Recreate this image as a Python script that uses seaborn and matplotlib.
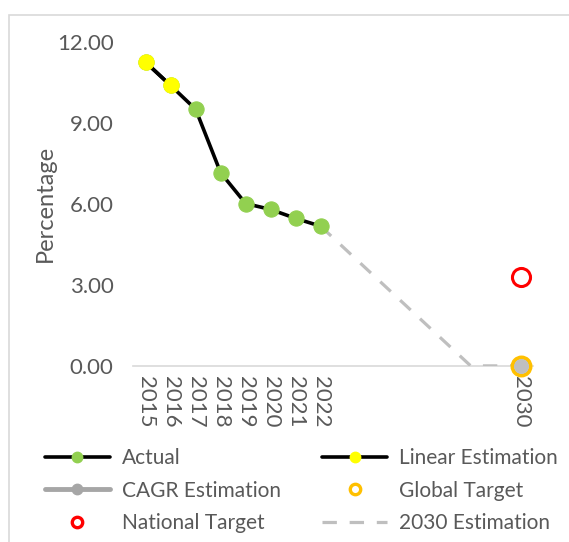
import pandas as pd
import matplotlib.pyplot as plt
import seaborn as sns
from matplotlib.lines import Line2D
from matplotlib.patches import Rectangle

# values
years = [2015, 2016, 2017, 2018, 2019, 2020, 2021, 2022]
actual = [11.24, 10.38, 9.50, 7.15, 6.01, 5.79, 5.46, 5.17]
linear_years = [2015, 2016]
linear = [11.24, 10.38]
cagr_years = [2030]
cagr = [0.0]
global_years = [2030]
global_target = [0.0]
national_years = [2030]
national_target = [3.29]
est_years = [2022, 2028, 2030]
est_2030 = [5.17, 0.0, 0.0]
tick_years = [2015, 2016, 2017, 2018, 2019, 2020, 2021, 2022, 2030]
y_ticks = [0, 3, 6, 9, 12]

actual_df = pd.DataFrame({'Year': years, 'Value': actual})
linear_df = pd.DataFrame({'Year': linear_years, 'Value': linear})
cagr_df = pd.DataFrame({'Year': cagr_years, 'Value': cagr})
global_df = pd.DataFrame({'Year': global_years, 'Value': global_target})
national_df = pd.DataFrame({'Year': national_years, 'Value': national_target})
est_df = pd.DataFrame({'Year': est_years, 'Value': est_2030})

sns.set_style("white")
plt.rcParams['font.family'] = ['Lato', 'DejaVu Sans']
text_col = '#595959'
dash = (0, (4.5, 4))

fig = plt.figure(figsize=(5.69, 5.42), dpi=100)
ax = fig.add_axes([0.234, 0.325, 0.703, 0.598])

sns.lineplot(x='Year', y='Value', data=est_df, ax=ax, color='#BFBFBF', linewidth=2.3,
             linestyle=dash, legend=False, zorder=2)
sns.lineplot(x='Year', y='Value', data=actual_df, ax=ax, color='black', linewidth=2.6,
             marker='o', markersize=11, markerfacecolor='#92D050', markeredgecolor='#92D050',
             legend=False, zorder=3)
sns.lineplot(x='Year', y='Value', data=linear_df, ax=ax, color='black', linewidth=2.6,
             marker='o', markersize=11, markerfacecolor='#FFFF00', markeredgecolor='#FFFF00',
             legend=False, zorder=4)
sns.lineplot(x='Year', y='Value', data=global_df, ax=ax, color='#FFC000', linestyle='',
             marker='o', markersize=13, markerfacecolor='none', markeredgecolor='#FFC000',
             markeredgewidth=2.8, legend=False, zorder=5, clip_on=False)
sns.lineplot(x='Year', y='Value', data=cagr_df, ax=ax, color='#A6A6A6', linewidth=3.5,
             marker='o', markersize=10, markerfacecolor='#BFBFBF', markeredgecolor='#BFBFBF',
             legend=False, zorder=6, clip_on=False)
sns.lineplot(x='Year', y='Value', data=national_df, ax=ax, color='#FF0000', linestyle='',
             marker='o', markersize=13, markerfacecolor='none', markeredgecolor='#FF0000',
             markeredgewidth=2.2, legend=False, zorder=5, clip_on=False)

ax.set_xlim(2014.5, 2030.5)
ax.set_ylim(0, 12)
ax.set_xticks(tick_years)
ax.set_xticklabels([str(y) for y in tick_years], rotation=270, fontsize=16, color=text_col)
ax.set_yticks(y_ticks)
ax.set_yticklabels(['%.2f' % v for v in y_ticks], fontsize=16, color=text_col)
ax.tick_params(axis='y', length=0, pad=14)
ax.tick_params(axis='x', length=0, pad=7)
ax.set_xlabel('')
ax.set_ylabel('Percentage', fontsize=17, color=text_col, labelpad=1)
for side in ['top', 'right', 'left']:
    ax.spines[side].set_visible(False)
ax.spines['bottom'].set_color('#D9D9D9')
ax.spines['bottom'].set_linewidth(1.2)
ax.spines['bottom'].set_zorder(1)

# legend with smaller markers, column 1 then column 2
handles = [
    Line2D([], [], color='black', lw=2.6, marker='o', ms=7.5, mfc='#92D050', mec='#92D050'),
    Line2D([], [], color='#A6A6A6', lw=3.5, marker='o', ms=7.5, mfc='#A6A6A6', mec='#A6A6A6'),
    Line2D([], [], ls='', marker='o', ms=7.5, mfc='none', mec='#FF0000', mew=2.4),
    Line2D([], [], color='black', lw=2.6, marker='o', ms=7.5, mfc='#FFFF00', mec='#FFFF00'),
    Line2D([], [], ls='', marker='o', ms=7.5, mfc='none', mec='#FFC000', mew=2.4),
    Line2D([], [], color='#BFBFBF', lw=2.3, ls=dash),
]
labels = ['Actual', 'CAGR Estimation', 'National Target',
          'Linear Estimation', 'Global Target', '2030 Estimation']
fig.legend(handles, labels, loc='upper left',
           bbox_to_anchor=(0.079, 0.173), ncol=2, frameon=False, fontsize=15,
           handlelength=3.1, handletextpad=0.58, columnspacing=2.0,
           labelspacing=0.59, labelcolor=text_col, borderaxespad=0, borderpad=0)

# chart area border (cropped at right and bottom)
fig.patches.append(Rectangle((9 / 569, -0.1), 1.2, 1.1 - 15 / 542, transform=fig.transFigure,
                             fill=False, edgecolor='#D9D9D9', linewidth=1.2))

fig.savefig('out.png', dpi=100)
